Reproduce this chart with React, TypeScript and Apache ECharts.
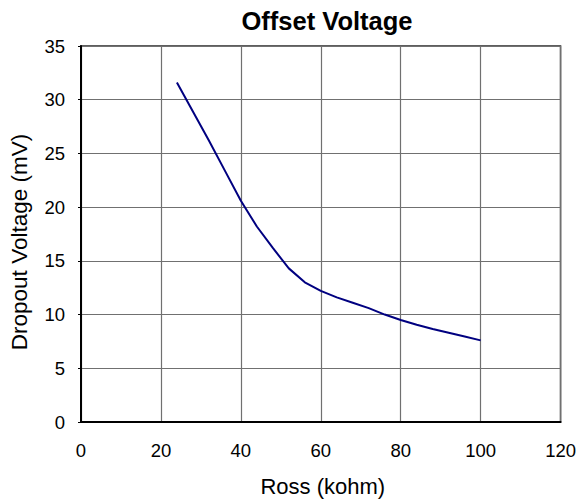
import React, { useEffect, useRef } from "react";
import * as echarts from "echarts";

const rossKohm = [24, 28, 32, 36, 40, 44, 48, 52, 56, 60, 64, 68, 72, 76, 80, 84, 88, 92, 96, 100];
const dropoutMv = [31.6, 28.9, 26.2, 23.4, 20.6, 18.2, 16.2, 14.3, 13.0, 12.2, 11.6, 11.1, 10.6, 10.0, 9.5, 9.05, 8.65, 8.3, 7.95, 7.6];

const titleText = "Offset Voltage";
const xName = "Ross (kohm)";
const yName = "Dropout Voltage (mV)";

export default function App() {
  const ref = useRef<HTMLDivElement>(null);
  useEffect(() => {
    if (!ref.current) return;
    const chart = echarts.init(ref.current, undefined, { renderer: "svg" });
    const font = "Arial, 'Liberation Sans', sans-serif";
    chart.setOption({
      animation: false,
      backgroundColor: "#ffffff",
      title: {
        text: titleText,
        left: 322,
        textAlign: "center",
        top: 3,
        textStyle: { fontFamily: font, fontSize: 25.5, fontWeight: "bold", color: "#000" },
      },
      grid: {
        left: 79,
        top: 46,
        right: 17,
        bottom: 82,
        containLabel: false,
        show: true,
        borderColor: "#2a2a2a",
        borderWidth: 1.5,
        backgroundColor: "transparent",
      },
      xAxis: {
        type: "value",
        min: 0,
        max: 120,
        interval: 20,
        name: xName,
        nameLocation: "middle",
        nameGap: 53,
        nameTextStyle: { fontFamily: font, fontSize: 22, color: "#000", padding: [0, 0, 0, 4] },
        axisLine: { show: true, onZero: false, lineStyle: { color: "#000", width: 2 } },
        axisTick: { show: false },
        axisLabel: { margin: 19, fontFamily: font, fontSize: 18.5, color: "#000" },
        splitLine: { show: true, lineStyle: { color: "#707070", width: 1.2 } },
      },
      yAxis: {
        type: "value",
        min: 0,
        max: 35,
        interval: 5,
        name: yName,
        nameLocation: "middle",
        nameGap: 50,
        nameRotate: 90,
        nameTextStyle: { fontFamily: font, fontSize: 22.5, color: "#000", padding: [0, 16, 0, 0] },
        axisLine: { show: true, onZero: false, lineStyle: { color: "#000", width: 2 } },
        axisTick: { show: true, length: 3, lineStyle: { color: "#000", width: 1 } },
        axisLabel: { margin: 16, fontFamily: font, fontSize: 18.5, color: "#000" },
        splitLine: { show: true, lineStyle: { color: "#707070", width: 1.2 } },
      },
      series: [
        {
          type: "line",
          data: rossKohm.map((x, i) => [x, dropoutMv[i]]),
          showSymbol: false,
          smooth: false,
          lineStyle: { color: "#000080", width: 2 },
        },
      ],
    });
    return () => chart.dispose();
  }, []);
  return (
    <div
      ref={ref}
      style={{ position: "fixed", left: 0, top: 0, width: 579, height: 504, background: "#fff" }}
    />
  );
}
